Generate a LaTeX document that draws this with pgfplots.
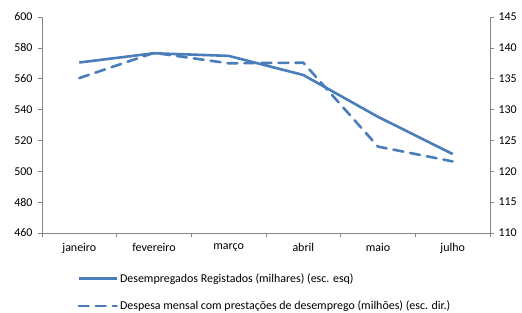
\documentclass[border=0pt]{standalone}
\usepackage{fontspec}
\setmainfont{Carlito}
\usepackage{pgfplots}
\pgfplotsset{compat=1.18}
\definecolor{xlblue}{RGB}{74,126,187}
\definecolor{axgray}{RGB}{134,134,134}
\begin{document}
\begin{tikzpicture}[font=\fontsize{12}{14}\selectfont]
\useasboundingbox (-42bp,-80bp) rectangle (480bp,233bp);
\pgfplotsset{
  every axis/.append style={
    scale only axis, width=448bp, height=216bp,
    xmin=-0.5, xmax=5.5, at={(0,0)}, anchor=south west,
    tick align=outside, major tick length=4bp,
    axis line style={axgray, line width=0.6bp},
    tick style={axgray, line width=0.6bp},
    /pgf/number format/assume math mode=true,
    tick label style={font=\fontsize{12}{14}\selectfont, text=black},
  },
}
\begin{axis}[
  ymin=460, ymax=600, ytick={460,480,...,600},
  axis x line*=bottom, axis y line*=left,
  xtick={-0.5,0.5,...,5.5}, x tick label as interval,
  xticklabels={janeiro,fevereiro,março,abril,maio,julho},
  xticklabel style={yshift=-3bp},
  yticklabel style={xshift=-2bp},
]
\addplot[xlblue, line width=2.6bp, line join=round] coordinates {
  (0,570.5) (1,576.5) (2,574.8) (3,562.4) (4,535.3) (5,511.2)
};
\end{axis}
\begin{axis}[
  ymin=110, ymax=145, ytick={110,115,...,145},
  axis x line=none, axis y line*=right,
  yticklabel style={xshift=1bp},
  legend style={draw=none, fill=none, at={(axis description cs:0.072,-0.168)}, anchor=north west,
    row sep=13bp, font=\fontsize{12}{14}\selectfont},
  legend cell align=left,
  legend image code/.code={\draw[#1] (0bp,0bp) -- (38bp,0bp);},
]
\addlegendimage{xlblue, line width=2.6bp}
\addlegendentry{Desempregados Registados (milhares) (esc. esq)}
\addplot[xlblue, line width=2.6bp, dash pattern=on 10bp off 7bp, line cap=round, line join=round] coordinates {
  (0,135.1) (1,139.2) (2,137.5) (3,137.6) (4,124.0) (5,121.6)
};
\addlegendentry{Despesa mensal com prestações de desemprego (milhões) (esc. dir.)}
\end{axis}
\end{tikzpicture}
\end{document}
